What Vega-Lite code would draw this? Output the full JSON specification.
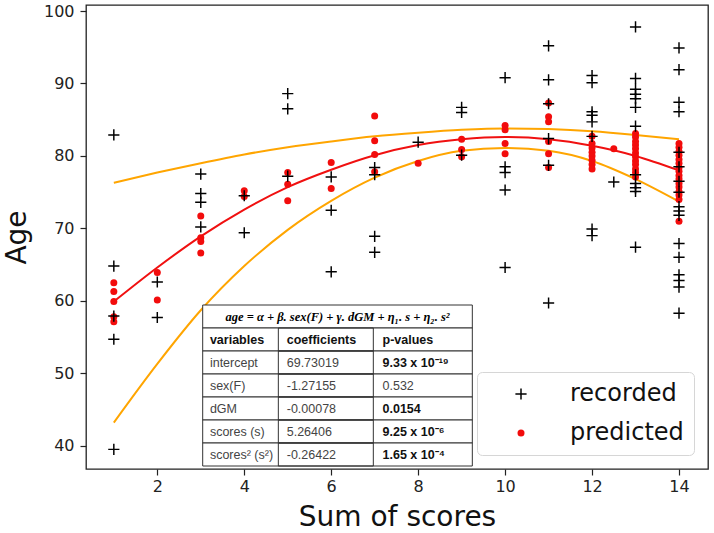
{
  "$schema": "https://vega.github.io/schema/vega-lite/v6.json",
  "width": 622,
  "height": 464,
  "autosize": {"type": "none"},
  "padding": {"left": 86, "top": 5, "right": 6, "bottom": 64},
  "background": "white",
  "datasets": {
    "obs": [
      {"score": 1, "age": 62.5, "series": "predicted"}, {"score": 1, "age": 61.3, "series": "predicted"}, {"score": 1, "age": 59.9, "series": "predicted"}, {"score": 1, "age": 57.8, "series": "predicted"}, {"score": 1, "age": 57.1, "series": "predicted"},
      {"score": 2, "age": 63.9, "series": "predicted"}, {"score": 2, "age": 60.1, "series": "predicted"},
      {"score": 3, "age": 71.7, "series": "predicted"}, {"score": 3, "age": 68.7, "series": "predicted"}, {"score": 3, "age": 68.2, "series": "predicted"}, {"score": 3, "age": 66.6, "series": "predicted"},
      {"score": 4, "age": 75.2, "series": "predicted"}, {"score": 4, "age": 74.4, "series": "predicted"},
      {"score": 5, "age": 77.7, "series": "predicted"}, {"score": 5, "age": 76.1, "series": "predicted"}, {"score": 5, "age": 73.8, "series": "predicted"},
      {"score": 6, "age": 79.1, "series": "predicted"}, {"score": 6, "age": 75.5, "series": "predicted"},
      {"score": 7, "age": 85.5, "series": "predicted"}, {"score": 7, "age": 82.1, "series": "predicted"}, {"score": 7, "age": 80.2, "series": "predicted"}, {"score": 7, "age": 77.8, "series": "predicted"},
      {"score": 8, "age": 79.0, "series": "predicted"},
      {"score": 9, "age": 82.3, "series": "predicted"}, {"score": 9, "age": 80.9, "series": "predicted"}, {"score": 9, "age": 79.9, "series": "predicted"},
      {"score": 10, "age": 84.2, "series": "predicted"}, {"score": 10, "age": 83.6, "series": "predicted"}, {"score": 10, "age": 81.7, "series": "predicted"}, {"score": 10, "age": 80.3, "series": "predicted"},
      {"score": 11, "age": 87.3, "series": "predicted"}, {"score": 11, "age": 85.4, "series": "predicted"}, {"score": 11, "age": 84.7, "series": "predicted"}, {"score": 11, "age": 82.0, "series": "predicted"}, {"score": 11, "age": 80.3, "series": "predicted"}, {"score": 11, "age": 78.4, "series": "predicted"},
      {"score": 12, "age": 82.7, "series": "predicted"}, {"score": 12, "age": 81.7, "series": "predicted"}, {"score": 12, "age": 81.1, "series": "predicted"}, {"score": 12, "age": 80.5, "series": "predicted"}, {"score": 12, "age": 80.0, "series": "predicted"}, {"score": 12, "age": 79.4, "series": "predicted"}, {"score": 12, "age": 78.8, "series": "predicted"}, {"score": 12, "age": 78.2, "series": "predicted"},
      {"score": 12.5, "age": 81.0, "series": "predicted"},
      {"score": 13, "age": 83.1, "series": "predicted"}, {"score": 13, "age": 82.6, "series": "predicted"}, {"score": 13, "age": 82.0, "series": "predicted"}, {"score": 13, "age": 81.5, "series": "predicted"}, {"score": 13, "age": 81.0, "series": "predicted"}, {"score": 13, "age": 80.4, "series": "predicted"}, {"score": 13, "age": 79.9, "series": "predicted"}, {"score": 13, "age": 79.3, "series": "predicted"}, {"score": 13, "age": 78.8, "series": "predicted"}, {"score": 13, "age": 78.2, "series": "predicted"}, {"score": 13, "age": 77.7, "series": "predicted"}, {"score": 13, "age": 77.1, "series": "predicted"},
      {"score": 14, "age": 81.7, "series": "predicted"}, {"score": 14, "age": 81.2, "series": "predicted"}, {"score": 14, "age": 80.6, "series": "predicted"}, {"score": 14, "age": 80.1, "series": "predicted"}, {"score": 14, "age": 79.5, "series": "predicted"}, {"score": 14, "age": 79.0, "series": "predicted"}, {"score": 14, "age": 78.4, "series": "predicted"}, {"score": 14, "age": 77.9, "series": "predicted"}, {"score": 14, "age": 77.3, "series": "predicted"}, {"score": 14, "age": 76.8, "series": "predicted"}, {"score": 14, "age": 76.2, "series": "predicted"}, {"score": 14, "age": 75.7, "series": "predicted"}, {"score": 14, "age": 75.1, "series": "predicted"}, {"score": 14, "age": 74.6, "series": "predicted"}, {"score": 14, "age": 74.0, "series": "predicted"}, {"score": 14, "age": 71.0, "series": "predicted"},
      {"score": 1, "age": 82.9, "series": "recorded"}, {"score": 1, "age": 64.8, "series": "recorded"}, {"score": 1, "age": 57.9, "series": "recorded"}, {"score": 1, "age": 54.7, "series": "recorded"}, {"score": 1, "age": 39.5, "series": "recorded"},
      {"score": 2, "age": 62.6, "series": "recorded"}, {"score": 2, "age": 57.7, "series": "recorded"},
      {"score": 3, "age": 77.5, "series": "recorded"}, {"score": 3, "age": 74.8, "series": "recorded"}, {"score": 3, "age": 73.6, "series": "recorded"}, {"score": 3, "age": 70.2, "series": "recorded"},
      {"score": 4, "age": 74.5, "series": "recorded"}, {"score": 4, "age": 69.4, "series": "recorded"},
      {"score": 5, "age": 88.6, "series": "recorded"}, {"score": 5, "age": 86.5, "series": "recorded"}, {"score": 5, "age": 77.2, "series": "recorded"},
      {"score": 6, "age": 77.1, "series": "recorded"}, {"score": 6, "age": 72.5, "series": "recorded"}, {"score": 6, "age": 64.0, "series": "recorded"},
      {"score": 7, "age": 78.4, "series": "recorded"}, {"score": 7, "age": 77.4, "series": "recorded"}, {"score": 7, "age": 68.9, "series": "recorded"}, {"score": 7, "age": 66.7, "series": "recorded"},
      {"score": 8, "age": 81.9, "series": "recorded"},
      {"score": 9, "age": 86.7, "series": "recorded"}, {"score": 9, "age": 86.0, "series": "recorded"}, {"score": 9, "age": 80.1, "series": "recorded"},
      {"score": 10, "age": 90.8, "series": "recorded"}, {"score": 10, "age": 78.5, "series": "recorded"}, {"score": 10, "age": 77.7, "series": "recorded"}, {"score": 10, "age": 75.3, "series": "recorded"}, {"score": 10, "age": 64.6, "series": "recorded"},
      {"score": 11, "age": 95.2, "series": "recorded"}, {"score": 11, "age": 90.5, "series": "recorded"}, {"score": 11, "age": 87.2, "series": "recorded"}, {"score": 11, "age": 82.4, "series": "recorded"}, {"score": 11, "age": 78.7, "series": "recorded"}, {"score": 11, "age": 59.7, "series": "recorded"},
      {"score": 12, "age": 91.1, "series": "recorded"}, {"score": 12, "age": 90.1, "series": "recorded"}, {"score": 12, "age": 86.1, "series": "recorded"}, {"score": 12, "age": 85.6, "series": "recorded"}, {"score": 12, "age": 84.7, "series": "recorded"}, {"score": 12, "age": 82.7, "series": "recorded"}, {"score": 12, "age": 69.9, "series": "recorded"}, {"score": 12, "age": 69.0, "series": "recorded"},
      {"score": 12.5, "age": 76.4, "series": "recorded"},
      {"score": 13, "age": 97.8, "series": "recorded"}, {"score": 13, "age": 90.7, "series": "recorded"}, {"score": 13, "age": 89.2, "series": "recorded"}, {"score": 13, "age": 88.5, "series": "recorded"}, {"score": 13, "age": 87.9, "series": "recorded"}, {"score": 13, "age": 86.7, "series": "recorded"}, {"score": 13, "age": 84.1, "series": "recorded"}, {"score": 13, "age": 77.4, "series": "recorded"}, {"score": 13, "age": 76.2, "series": "recorded"}, {"score": 13, "age": 75.6, "series": "recorded"}, {"score": 13, "age": 75.1, "series": "recorded"}, {"score": 13, "age": 67.4, "series": "recorded"},
      {"score": 14, "age": 94.9, "series": "recorded"}, {"score": 14, "age": 91.9, "series": "recorded"}, {"score": 14, "age": 87.4, "series": "recorded"}, {"score": 14, "age": 86.1, "series": "recorded"}, {"score": 14, "age": 80.5, "series": "recorded"}, {"score": 14, "age": 78.5, "series": "recorded"}, {"score": 14, "age": 76.5, "series": "recorded"}, {"score": 14, "age": 75.0, "series": "recorded"}, {"score": 14, "age": 73.0, "series": "recorded"}, {"score": 14, "age": 72.4, "series": "recorded"}, {"score": 14, "age": 71.8, "series": "recorded"}, {"score": 14, "age": 67.9, "series": "recorded"}, {"score": 14, "age": 66.0, "series": "recorded"}, {"score": 14, "age": 63.6, "series": "recorded"}, {"score": 14, "age": 62.8, "series": "recorded"}, {"score": 14, "age": 61.9, "series": "recorded"}, {"score": 14, "age": 58.3, "series": "recorded"}
    ],
    "curves": [
      {"score": 1, "fit": 59.9, "lower": 43.2, "upper": 76.3},
      {"score": 2, "fit": 64.6, "lower": 51.3, "upper": 77.7},
      {"score": 3, "fit": 68.9, "lower": 58.7, "upper": 79.0},
      {"score": 4, "fit": 72.6, "lower": 64.8, "upper": 80.2},
      {"score": 5, "fit": 75.7, "lower": 69.8, "upper": 81.2},
      {"score": 6, "fit": 78.1, "lower": 73.8, "upper": 82.0},
      {"score": 7, "fit": 80.1, "lower": 77.0, "upper": 82.7},
      {"score": 8, "fit": 81.5, "lower": 79.3, "upper": 83.2},
      {"score": 9, "fit": 82.3, "lower": 80.7, "upper": 83.6},
      {"score": 10, "fit": 82.6, "lower": 81.1, "upper": 83.8},
      {"score": 11, "fit": 82.3, "lower": 80.7, "upper": 83.7},
      {"score": 12, "fit": 81.4, "lower": 79.3, "upper": 83.4},
      {"score": 13, "fit": 80.0, "lower": 76.8, "upper": 82.9},
      {"score": 14, "fit": 78.0, "lower": 73.7, "upper": 82.3}
    ],
    "coefficients": [
      {"row": "formula", "equation": "age = α + β. sex(F) + γ. dGM + η₁. s + η₂. s²"},
      {"row": "header", "variable": "variables", "coefficient": "coefficients", "pvalue": "p-values"},
      {"row": "intercept", "variable": "intercept", "coefficient": "69.73019", "pvalue": "9.33 x 10⁻¹⁹", "significant": true},
      {"row": "sex(F)", "variable": "sex(F)", "coefficient": "-1.27155", "pvalue": "0.532", "significant": false},
      {"row": "dGM", "variable": "dGM", "coefficient": "-0.00078", "pvalue": "0.0154", "significant": true},
      {"row": "scores (s)", "variable": "scores (s)", "coefficient": "5.26406", "pvalue": "9.25 x 10⁻⁶", "significant": true},
      {"row": "scores²(s²)", "variable": "scores² (s²)", "coefficient": "-0.26422", "pvalue": "1.65 x 10⁻⁴", "significant": true}
    ]
  },
  "layer": [
    {
      "encoding": {
        "x": {
          "field": "score", "type": "quantitative",
          "scale": {"domain": [0.36, 14.667], "nice": false, "zero": false},
          "axis": {"values": [2, 4, 6, 8, 10, 12, 14], "title": "Sum of scores"}
        }
      },
      "layer": [
        {
          "data": {"name": "curves"},
          "mark": {"type": "line", "color": "#ffa500", "strokeWidth": 2, "interpolate": "monotone"},
          "encoding": {"y": {"field": "upper", "type": "quantitative", "scale": {"domain": [36.79, 100.83], "nice": false, "zero": false}, "axis": {"values": [40, 50, 60, 70, 80, 90, 100], "title": "Age"}}}
        },
        {
          "data": {"name": "curves"},
          "mark": {"type": "line", "color": "#ffa500", "strokeWidth": 2, "interpolate": "monotone"},
          "encoding": {"y": {"field": "lower", "type": "quantitative"}}
        },
        {
          "data": {"name": "curves"},
          "mark": {"type": "line", "color": "#f01010", "strokeWidth": 2, "interpolate": "monotone"},
          "encoding": {"y": {"field": "fit", "type": "quantitative"}}
        },
        {
          "data": {"name": "obs"},
          "mark": {"type": "point", "filled": true, "opacity": 1, "size": 49},
          "encoding": {
            "y": {"field": "age", "type": "quantitative"},
            "color": {
              "field": "series", "type": "nominal",
              "scale": {"domain": ["recorded", "predicted"], "range": ["#000000", "#f20c0c"]},
              "legend": {"title": null}
            },
            "shape": {
              "field": "series", "type": "nominal",
              "scale": {"domain": ["recorded", "predicted"], "range": ["M-1.6,-0.21H1.6V0.21H-1.6Z M-0.21,-1.6H0.21V1.6H-0.21Z", "circle"]},
              "legend": {"title": null}
            }
          }
        }
      ]
    },
    {
      "data": {"name": "coefficients"},
      "encoding": {
        "y": {
          "field": "row", "type": "nominal",
          "scale": {
            "type": "band",
            "domain": ["formula", "header", "intercept", "sex(F)", "dGM", "scores (s)", "scores²(s²)"],
            "range": [300, 461],
            "paddingInner": 0, "paddingOuter": 0, "round": false
          },
          "axis": null
        }
      },
      "layer": [
        {
          "mark": {"type": "rect", "fill": "white", "stroke": "#333333", "strokeWidth": 1},
          "encoding": {"x": {"datum": 3.044, "type": "quantitative"}, "x2": {"datum": 9.246}}
        },
        {
          "transform": [{"filter": "datum.row !== 'formula'"}],
          "mark": {"type": "rect", "fill": null, "fillOpacity": 0, "stroke": "#333333", "strokeWidth": 1},
          "encoding": {"x": {"datum": 4.784, "type": "quantitative"}, "x2": {"datum": 6.969}}
        },
        {
          "transform": [{"filter": "datum.row === 'formula'"}],
          "mark": {"type": "text", "align": "center", "baseline": "middle", "font": "Liberation Serif", "fontSize": 12.5, "fontWeight": "bold", "fontStyle": "italic", "color": "#000000"},
          "encoding": {"x": {"datum": 6.145, "type": "quantitative"}, "text": {"field": "equation"}}
        },
        {
          "transform": [{"filter": "datum.row === 'header'"}],
          "mark": {"type": "text", "align": "left", "baseline": "middle", "font": "Liberation Sans", "fontSize": 12.5, "fontWeight": "bold", "color": "#111111"},
          "encoding": {"x": {"datum": 3.21, "type": "quantitative"}, "text": {"field": "variable"}}
        },
        {
          "transform": [{"filter": "datum.row === 'header'"}],
          "mark": {"type": "text", "align": "left", "baseline": "middle", "font": "Liberation Sans", "fontSize": 12.5, "fontWeight": "bold", "color": "#111111"},
          "encoding": {"x": {"datum": 4.977, "type": "quantitative"}, "text": {"field": "coefficient"}}
        },
        {
          "transform": [{"filter": "datum.row === 'header'"}],
          "mark": {"type": "text", "align": "left", "baseline": "middle", "font": "Liberation Sans", "fontSize": 12.5, "fontWeight": "bold", "color": "#111111"},
          "encoding": {"x": {"datum": 7.18, "type": "quantitative"}, "text": {"field": "pvalue"}}
        },
        {
          "transform": [{"filter": "datum.row !== 'header' && datum.row !== 'formula'"}],
          "mark": {"type": "text", "align": "left", "baseline": "middle", "font": "Liberation Sans", "fontSize": 12.5, "color": "#444444"},
          "encoding": {"x": {"datum": 3.21, "type": "quantitative"}, "text": {"field": "variable"}}
        },
        {
          "transform": [{"filter": "datum.row !== 'header' && datum.row !== 'formula'"}],
          "mark": {"type": "text", "align": "left", "baseline": "middle", "font": "Liberation Sans", "fontSize": 12.5, "color": "#444444"},
          "encoding": {"x": {"datum": 4.977, "type": "quantitative"}, "text": {"field": "coefficient"}}
        },
        {
          "transform": [{"filter": "datum.significant === false"}],
          "mark": {"type": "text", "align": "left", "baseline": "middle", "font": "Liberation Sans", "fontSize": 12.5, "color": "#444444"},
          "encoding": {"x": {"datum": 7.18, "type": "quantitative"}, "text": {"field": "pvalue"}}
        },
        {
          "transform": [{"filter": "datum.significant === true"}],
          "mark": {"type": "text", "align": "left", "baseline": "middle", "font": "Liberation Sans", "fontSize": 12.5, "fontWeight": "bold", "color": "#111111"},
          "encoding": {"x": {"datum": 7.18, "type": "quantitative"}, "text": {"field": "pvalue"}}
        }
      ]
    }
  ],
  "resolve": {"scale": {"y": "independent"}},
  "config": {
    "font": "DejaVu Sans",
    "view": {"stroke": "#222222", "strokeWidth": 1.3},
    "axis": {
      "grid": false,
      "domain": false,
      "labelFont": "DejaVu Sans",
      "labelFontSize": 16,
      "labelColor": "#222222",
      "tickColor": "#222222",
      "tickSize": 6,
      "tickWidth": 1.2,
      "labelPadding": 4,
      "titleFont": "DejaVu Sans",
      "titleFontSize": 28,
      "titleFontWeight": "normal",
      "titleColor": "#111111"
    },
    "axisX": {"titlePadding": 9, "labelPadding": 3},
    "axisY": {"titlePadding": 12, "labelPadding": 6},
    "legend": {
      "orient": "bottom-right",
      "offset": 14,
      "padding": 10,
      "strokeColor": "#d6d6d6",
      "fillColor": "white",
      "cornerRadius": 5,
      "labelFont": "DejaVu Sans",
      "labelFontSize": 24,
      "labelColor": "#111111",
      "symbolSize": 49,
      "symbolStrokeWidth": 0,
      "symbolOffset": 22,
      "labelOffset": 37,
      "rowPadding": 15
    }
  }
}
